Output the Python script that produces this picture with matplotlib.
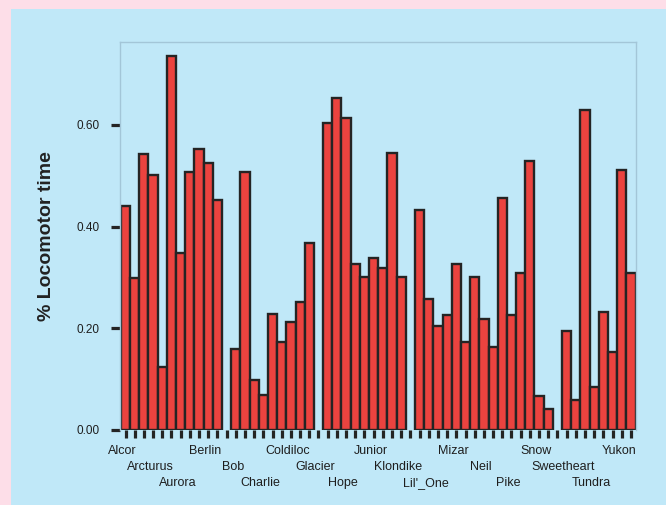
import matplotlib
matplotlib.use('Agg')
import matplotlib.pyplot as plt
from matplotlib.patches import Rectangle
from matplotlib.transforms import ScaledTranslation

plt.rcParams['font.family'] = ['Liberation Sans', 'DejaVu Sans']

# locomotor fraction per individual, one list per group
group_1 = [0.441, 0.298, 0.542, 0.502, 0.123, 0.736, 0.348, 0.507, 0.553, 0.526, 0.452]
group_2 = [0.159, 0.507, 0.099, 0.069, 0.229, 0.173, 0.212, 0.252, 0.367]
group_3 = [0.603, 0.653, 0.613, 0.327, 0.300, 0.338, 0.319, 0.544, 0.301]
group_4 = [0.433, 0.258, 0.205, 0.226, 0.327, 0.173, 0.300, 0.218, 0.163,
           0.457, 0.226, 0.308, 0.529, 0.067, 0.041]
group_5 = [0.195, 0.059, 0.630, 0.085, 0.232, 0.153, 0.512, 0.308]
groups = [group_1, group_2, group_3, group_4, group_5]

names = ['Alcor', 'Arcturus', 'Aurora', 'Berlin', 'Bob', 'Charlie', 'Coldiloc',
         'Glacier', 'Hope', 'Junior', 'Klondike', "Lil'_One", 'Mizar', 'Neil',
         'Pike', 'Snow', 'Sweetheart', 'Tundra', 'Yukon']
yticks = [0.0, 0.2, 0.4, 0.6]

# lay the groups out with one empty slot between them
xs, vals = [], []
pos = 0
for g in groups:
    xs.extend(range(pos, pos + len(g)))
    vals.extend(g)
    pos += len(g) + 1
n_slots = pos - 1

fig = plt.figure(figsize=(6.66, 5.05), dpi=100, facecolor='#fddee8')
fig.patches.append(Rectangle((11 / 666, 0), 1, 1 - 9 / 505, transform=fig.transFigure,
                             facecolor='#c0e8f8', edgecolor='none', zorder=-5))
ax = fig.add_axes([120 / 666, 75 / 505, 516 / 666, 388.5 / 505])
ax.set_facecolor('none')

ax.bar(xs, vals, width=1.0, color='#eb433f', edgecolor='#242424', linewidth=1.7)
ax.set_xlim(-0.6, n_slots - 0.45)
ax.set_ylim(0, 0.764)

for side in ['top', 'right', 'left']:
    ax.spines[side].set_color('#a3c6d8')
    ax.spines[side].set_linewidth(1.0)
ax.spines['bottom'].set_visible(False)

# every slot gets a tick, every third one a name, staggered over three rows
labels = [''] * n_slots
for k, name in enumerate(names):
    labels[3 * k] = '\n' * (k % 3) + name
ax.set_xticks(range(n_slots))
ax.set_xticklabels(labels)
ax.set_yticks(yticks)
ax.set_yticklabels([f'{v:.2f}' for v in yticks])

ax.tick_params(axis='x', length=6, width=2.3, color='#242424', pad=4.5,
               labelsize=9, labelcolor='#1e1e1e')
ax.tick_params(axis='y', length=6.5, width=2.3, color='#242424', pad=8,
               labelsize=8.5, labelcolor='#1e1e1e')
shift = ScaledTranslation(-3 / 100, 0, fig.dpi_scale_trans)
for lbl in ax.get_xticklabels():
    lbl.set_linespacing(1.45)
    lbl.set_transform(lbl.get_transform() + shift)

ax.set_ylabel('% Locomotor time', fontsize=14, fontweight='bold',
              color='#222222', labelpad=16)

fig.savefig('out.png', dpi=100, facecolor=fig.get_facecolor())
